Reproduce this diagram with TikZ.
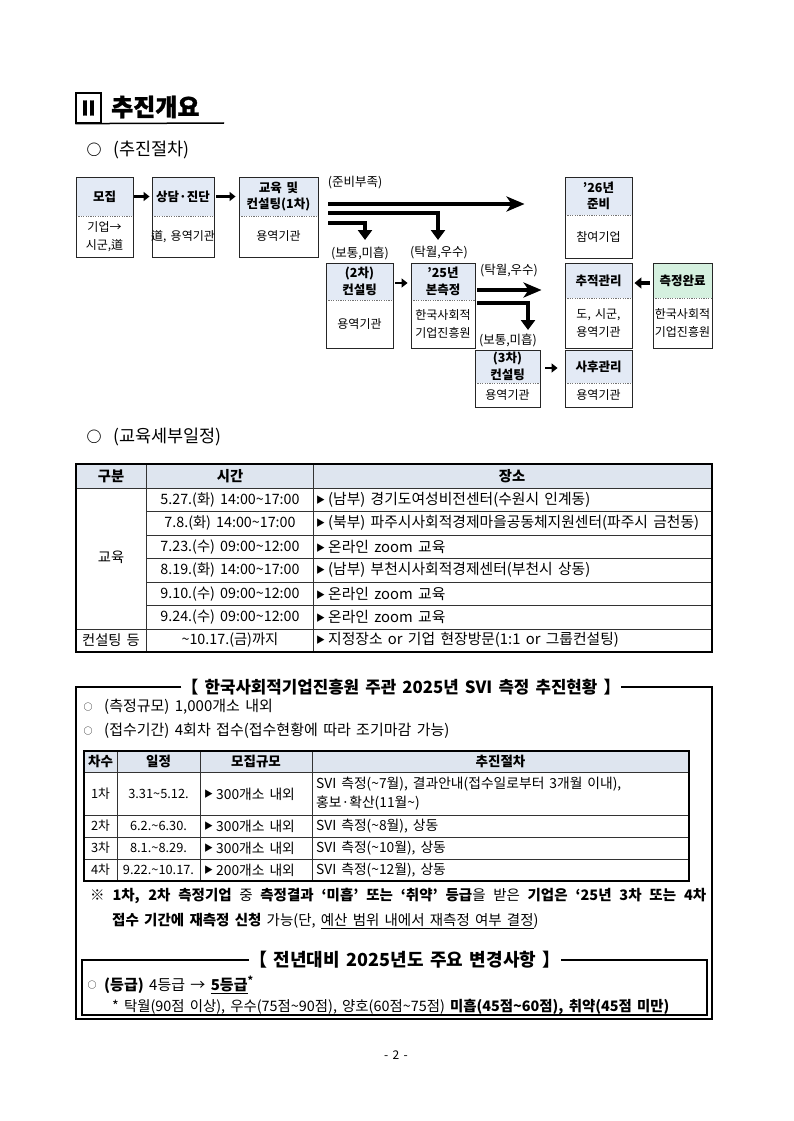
\documentclass[tikz,border=0pt]{standalone}
\usepackage{fontspec}
\setmainfont{Noto Sans CJK KR}[WordSpace=1.6]
\newfontfamily\heavyfont{Noto Sans CJK KR}[BoldFeatures={FakeBold=1.2}]
\usetikzlibrary{arrows.meta,calc,fit}
\definecolor{hdrblue}{HTML}{E3EAF5}
\definecolor{hdrgreen}{HTML}{D5F0DF}
\definecolor{thdr}{HTML}{DEE5EF}
\newcommand{\fs}[2]{\fontsize{#1}{#2}\selectfont}
\newcommand{\tri}{\raisebox{1.2pt}{\fs{9}{10}▶}\hspace{3pt}}
\newcommand{\flowbx}[9]{%
  \fill[#7] (#2,#3) rectangle (#4,#5);
  \draw[sepline] (#2,#5) -- (#4,#5);
  \node[boxframe, fit={(#2,#3) (#4,#6)}] (#1) {};
  \node[hdr] (#1-h) at ({(#2+#4)/2},{(#3+#5)/2}) {#8};
  \node[bdy] (#1-b) at ({(#2+#4)/2},{(#5+#6)/2}) {#9};
}
\begin{document}
\begin{tikzpicture}[x=1pt,y=-1pt,
  every node/.style={inner sep=0pt},
  boxframe/.style={draw=black!85, line width=0.9pt, inner sep=0pt},
  sepline/.style={draw=black!55, line width=0.6pt, dash pattern=on 1.2pt off 1.2pt},
  hdr/.style={font=\bfseries\fs{12.5}{16.5}, align=center},
  bdy/.style={font=\fs{12}{18}, align=center},
  lbl/.style={font=\fs{12.5}{15}},
  sarr/.style={line width=2.6pt, -{Triangle[length=6pt,width=9pt]}},
  harr/.style={line width=4.5pt, -{Triangle[length=7pt,width=11pt]}},
  barr/.style={line width=3.6pt, -{Stealth[length=18pt,width=15pt,inset=5pt]}},
  darr/.style={line width=3.6pt, line join=miter, -{Triangle[length=10pt,width=14pt]}},
  gline/.style={line width=0.6pt, draw=black!80},
  th/.style={font=\bfseries\fs{14.3}{16}},
  td/.style={font=\fs{14.3}{16}},
  tdl/.style={font=\fs{14.8}{16}, anchor=west},
  th2/.style={font=\bfseries\fs{13.5}{15}},
  td2/.style={font=\fs{12.8}{15}},
  td2l/.style={font=\fs{13.8}{15}, anchor=west},
  txt/.style={font=\fs{15}{18}, anchor=west},
  frame/.style={line width=1.1pt}
]
\fill[white] (0,0) rectangle (793,1121);
\useasboundingbox (0,0) rectangle (793,1121);

% ---------- heading ----------
\node[draw, line width=1.3pt, minimum width=25pt, minimum height=30pt, font=\heavyfont\bfseries\fs{20}{24}] (rn) at (88.5,108) {Ⅱ};
\draw[line width=1.5pt] (rn.south west) -- (224,123);
\node[font=\heavyfont\bfseries\fs{24}{28}, anchor=west] (ttl) at (111,107) {추진개요};

\node[font=\bfseries\fs{15}{18}] (bul1) at (94,150) {○};
\node[font=\fs{17.5}{20}, anchor=west] (sec1) at (113,150) {(추진절차)};

% ---------- flowchart ----------
\flowbx{mojip}{76}{177}{133}{216}{257}{hdrblue}{모집}{기업→\\시군,道}
\flowbx{sangdam}{152}{177}{214}{216}{257}{hdrblue}{상담·진단}{道, 용역기관}
\flowbx{edu}{239}{177}{318}{216}{257}{hdrblue}{교육 및\\컨설팅(1차)}{용역기관}
\flowbx{prep}{565}{177}{632}{215}{258}{hdrblue}{’26년\\준비}{참여기업}
\flowbx{cons2}{326}{263}{393}{300}{348}{hdrblue}{(2차)\\컨설팅}{용역기관}
\flowbx{bon}{411}{263}{475}{300}{348}{hdrblue}{’25년\\본측정}{한국사회적\\기업진흥원}
\flowbx{track}{565}{263}{632}{298}{348}{hdrblue}{추적관리}{도, 시군,\\용역기관}
\flowbx{done}{653}{263}{712}{298}{348}{hdrgreen}{측정완료}{한국사회적\\기업진흥원}
\flowbx{cons3}{475}{350}{540}{383}{407}{hdrblue}{(3차)\\컨설팅}{용역기관}
\flowbx{after}{565}{350}{632}{383}{407}{hdrblue}{사후관리}{용역기관}

\node[lbl] (l1) at (355,183) {(준비부족)};
\node[lbl] (l2) at (360,253) {(보통,미흡)};
\node[lbl] (l3) at (439,253) {(탁월,우수)};
\node[lbl] (l4) at (509,271) {(탁월,우수)};
\node[lbl] (l5) at (508,340) {(보통,미흡)};

\coordinate (t1) at (365,240);
\coordinate (t2) at (438,240);
\coordinate (t3) at (528,330);

\draw[sarr, shorten <=1pt, shorten >=2pt] (mojip.east |- mojip-h) -- (sangdam.west |- mojip-h);
\draw[sarr, shorten <=2pt, shorten >=3pt] (sangdam.east |- sangdam-h) -- (edu.west |- sangdam-h);
\draw[barr, shorten <=10pt, shorten >=40pt] (edu.east |- 0,204) -- (prep.west |- 0,204);
\draw[darr, shorten <=10pt] (edu.east |- 0,213) -| (t2);
\draw[darr, shorten <=10pt] (edu.east |- 0,223) -| (t1);
\draw[sarr, shorten <=2pt, shorten >=3pt] (cons2.east |- 0,283) -- (bon.west |- 0,283);
\draw[barr, shorten <=2pt, shorten >=23pt] (bon.east |- 0,290) -- (track.west |- 0,290);
\draw[darr, shorten <=2pt] (bon.east |- 0,303) -| (t3);
\draw[sarr, shorten <=5pt, shorten >=7pt] (cons3.east |- 0,368) -- (after.west |- 0,368);
\draw[harr, shorten <=3pt, shorten >=2pt] (done.west |- 0,283) -- (track.east |- 0,283);

% ---------- education schedule ----------
\node[font=\bfseries\fs{15}{18}] (bul2) at (94,437) {○};
\node[font=\fs{17.5}{20}, anchor=west] (sec2) at (113,437) {(교육세부일정)};

\fill[thdr] (76,464) rectangle (712,488);
\draw[gline] (146,464) -- (146,652) (313,464) -- (313,652);
\draw[gline] (76,488) -- (712,488);
\foreach \yy in {511.5,535,558.5,582,605.5} \draw[gline] (146,\yy) -- (712,\yy);
\draw[gline] (76,629) -- (712,629);
\draw[line width=1.5pt] (76,464) rectangle (712,652);

\node[th] at (111,476) {구분};
\node[th] at (230,476) {시간};
\node[th] at (512,476) {장소};
\node[td] at (111,557) {교육};
\node[td] at (111,640) {컨설팅 등};
\node[td] at (230,500) {5.27.(화) 14:00\textasciitilde17:00};
\node[td] at (230,523) {7.8.(화) 14:00\textasciitilde17:00};
\node[td] at (230,547) {7.23.(수) 09:00\textasciitilde12:00};
\node[td] at (230,570) {8.19.(화) 14:00\textasciitilde17:00};
\node[td] at (230,594) {9.10.(수) 09:00\textasciitilde12:00};
\node[td] at (230,617) {9.24.(수) 09:00\textasciitilde12:00};
\node[td] at (230,640) {\textasciitilde10.17.(금)까지};
\node[tdl] at (316,500) {\tri{}(남부) 경기도여성비전센터(수원시 인계동)};
\node[tdl] at (316,523) {\tri{}(북부) 파주시사회적경제마을공동체지원센터(파주시 금천동)};
\node[tdl] at (316,547) {\tri{}온라인 zoom 교육};
\node[tdl] at (316,570) {\tri{}(남부) 부천시사회적경제센터(부천시 상동)};
\node[tdl] at (316,594) {\tri{}온라인 zoom 교육};
\node[tdl] at (316,617) {\tri{}온라인 zoom 교육};
\node[tdl] at (316,640) {\tri{}지정장소 or 기업 현장방문(1:1 or 그룹컨설팅)};

% ---------- SVI box ----------
\node[font=\bfseries\fs{16.8}{18}] (title1) at (401,687) {【 한국사회적기업진흥원 주관 2025년 SVI 측정 추진현황 】};
\draw[frame] (title1.west) -- (76,687) -- (76,1019) -- (712,1019) -- (712,687) -- (title1.east);

\node[font=\fs{9}{10}] at (88,707) {○};
\node[txt] at (104,707) {(측정규모) 1,000개소 내외};
\node[font=\fs{9}{10}] at (88,731) {○};
\node[txt] at (104,731) {(접수기간) 4회차 접수(접수현황에 따라 조기마감 가능)};

\fill[thdr] (84,751) rectangle (689,772);
\draw[gline] (117,751) -- (117,881) (200,751) -- (200,881) (312,751) -- (312,881);
\foreach \yy in {772,815,837,859} \draw[gline] (84,\yy) -- (689,\yy);
\draw[line width=1.2pt] (84,751) rectangle (689,881);

\node[th2] at (100.5,761) {차수};
\node[th2] at (158.5,761) {일정};
\node[th2] at (256,761) {모집규모};
\node[th2] at (500.5,761) {추진절차};

\node[td2] at (100.5,794) {1차};
\node[td2] at (158.5,794) {3.31\textasciitilde5.12.};
\node[td2l] at (204,794) {\tri{}300개소 내외};
\node[td2l] at (316,784) {SVI 측정(\textasciitilde7월), 결과안내(접수일로부터 3개월 이내),};
\node[td2l] at (316,803) {홍보·확산(11월\textasciitilde)};

\node[td2] at (100.5,826) {2차};
\node[td2] at (158.5,826) {6.2.\textasciitilde6.30.};
\node[td2l] at (204,826) {\tri{}300개소 내외};
\node[td2l] at (316,826) {SVI 측정(\textasciitilde8월), 상동};

\node[td2] at (100.5,848) {3차};
\node[td2] at (158.5,848) {8.1.\textasciitilde8.29.};
\node[td2l] at (204,848) {\tri{}300개소 내외};
\node[td2l] at (316,848) {SVI 측정(\textasciitilde10월), 상동};

\node[td2] at (100.5,870) {4차};
\node[td2] at (158.5,870) {9.22.\textasciitilde10.17.};
\node[td2l] at (204,870) {\tri{}200개소 내외};
\node[td2l] at (316,870) {SVI 측정(\textasciitilde12월), 상동};

\node[txt, font=\fs{14.5}{18}] (note1) at (90,896) {\makebox[616pt][s]{\textbf{※ 1차, 2차 측정기업} 중 \textbf{측정결과 ‘미흡’ 또는 ‘취약’ 등급}을 받은 \textbf{기업은 ‘25년 3차 또는 4차}}};
\node[txt, font=\fs{14.5}{18}] (note2) at (112,921) {\textbf{접수 기간에 재측정 신청} 가능(단, \underline{예산 범위 내에서 재측정 여부 결정})};

% ---------- change box ----------
\node[font=\bfseries\fs{18}{20}] (title2) at (405,960) {【 전년대비 2025년도 주요 변경사항 】};
\draw[frame] (title2.west) -- (82,960) -- (82,1015) -- (707,1015) -- (707,960) -- (title2.east);

\node[font=\fs{9}{10}] at (92,985) {○};
\node[txt] at (104,985) {\textbf{(등급)} 4등급 → \textbf{\underline{5등급}}\textsuperscript{\textbf{*}}};
\node[txt, font=\fs{14.4}{16}] at (112,1007) {* 탁월(90점 이상), 우수(75점\textasciitilde90점), 양호(60점\textasciitilde75점) \textbf{미흡(45점\textasciitilde60점), 취약(45점 미만)}};

\node[font=\fs{12}{14}] (pg) at (396,1055) {- 2 -};
\end{tikzpicture}
\end{document}
